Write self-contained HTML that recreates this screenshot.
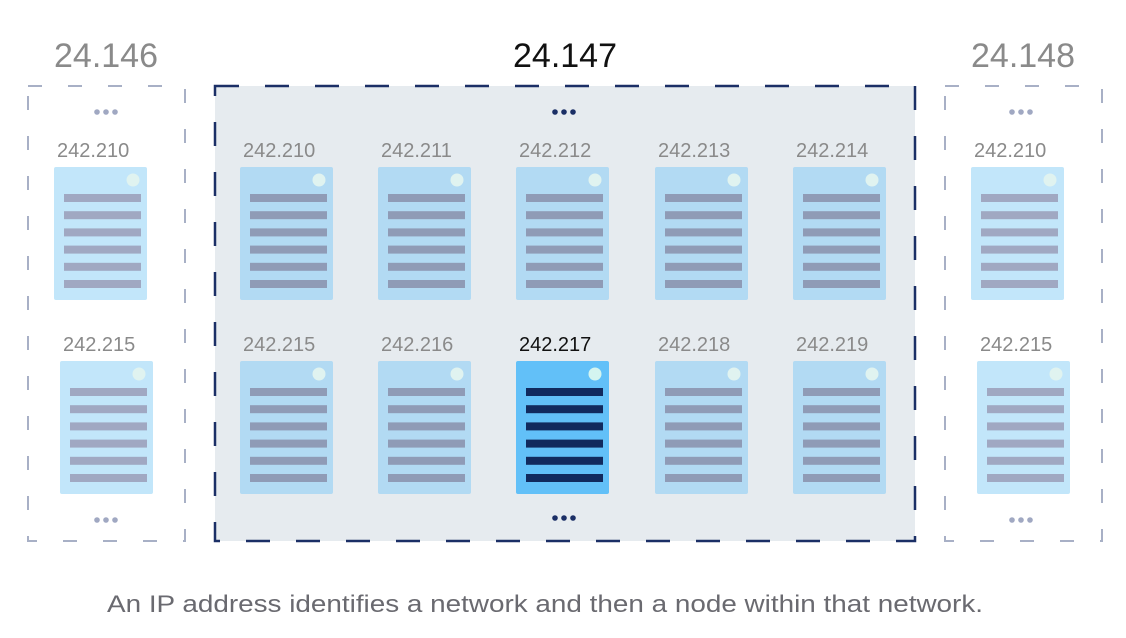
<!DOCTYPE html>
<html><head><meta charset="utf-8"><style>
html,body{margin:0;padding:0;background:#fff;width:1126px;height:638px;overflow:hidden}
svg{display:block;font-family:"Liberation Sans",sans-serif}
</style></head><body>
<svg id="s" width="1126" height="638" viewBox="0 0 1126 638">
<rect x="215" y="86" width="700" height="455" fill="#e6ebef" stroke="#1b2f66" stroke-width="2.5" stroke-dasharray="24,26"/>
<rect x="28" y="86" width="157" height="455" fill="none" stroke="#a8b0c6" stroke-width="2" stroke-dasharray="14,26"/>
<rect x="945" y="86" width="157" height="455" fill="none" stroke="#a8b0c6" stroke-width="2" stroke-dasharray="14,26"/>
<text x="106" y="67" font-size="34" fill="#8a8a8a" text-anchor="middle">24.146</text>
<text x="565" y="67" font-size="34" fill="#111" text-anchor="middle">24.147</text>
<text x="1023" y="67" font-size="34" fill="#8a8a8a" text-anchor="middle">24.148</text>
<text x="107" y="612" font-size="24" fill="#6a6a70" textLength="876" lengthAdjust="spacingAndGlyphs">An IP address identifies a network and then a node within that network.</text>
</svg>
<script>
const NS='http://www.w3.org/2000/svg';
const svgRoot=document.getElementById('s');
function el(t,a,p){const e=document.createElementNS(NS,t);for(const k in a)e.setAttribute(k,a[k]);(p||svgRoot).appendChild(e);return e;}
function card(x,y,label,kind){
  const g=el('g',{});
  
  
  const bg=kind==='sel'?'#62c0f8':(kind==='side'?'#c2e6fa':'#b2daf3');
  const bar=kind==='sel'?'#112a5e':(kind==='side'?'#a0a8c2':'#8f9bb6');
  const lc=kind==='sel'?'#111':'#8a8a8a';
  const t=el('text',{x:x+3,y:y-10,'font-size':20,fill:lc},g);t.textContent=label;
  el('rect',{x:x,y:y,width:93,height:133,rx:2,fill:bg},g);
  el('circle',{cx:x+79,cy:y+13,r:6.5,fill:kind==='sel'?'#d4f5f0':'#e0f3f0'},g);
  for(let i=0;i<6;i++)el('rect',{x:x+10,y:y+27+i*17.2,width:77,height:8,fill:bar},g);
}
function dots(cx,cy,c,n){const g=el('g',{});
  for(let i=-1;i<=1;i++)el('circle',{cx:cx+i*9,cy:cy,r:2.8,fill:c},g);}
const colX=[240,378,516,655,793];
const topLabels=['242.210','242.211','242.212','242.213','242.214'];
const botLabels=['242.215','242.216','242.217','242.218','242.219'];
colX.forEach((x,i)=>{card(x,167,topLabels[i],'mid');card(x,361,botLabels[i],i===2?'sel':'mid');});
card(54,167,'242.210','side');card(60,361,'242.215','side');
card(971,167,'242.210','side');card(977,361,'242.215','side');
dots(106,112,'#a0a8c2','ellipsis-top-left');dots(106,520,'#a0a8c2','ellipsis-bottom-left');
dots(564,112,'#1b2f66','ellipsis-top-middle');dots(564,518,'#1b2f66','ellipsis-bottom-middle');
dots(1021,112,'#a0a8c2','ellipsis-top-right');dots(1021,520,'#a0a8c2','ellipsis-bottom-right');
</script>
</body></html>
